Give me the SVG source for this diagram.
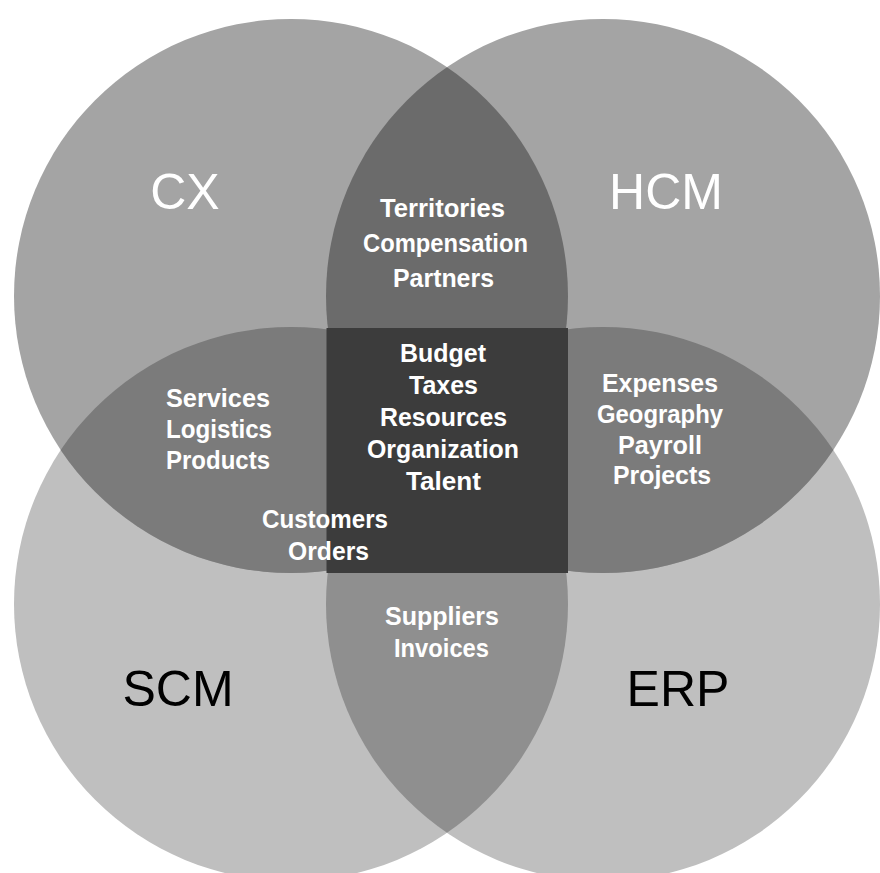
<svg xmlns="http://www.w3.org/2000/svg" width="880" height="873" viewBox="0 0 880 873">
  <style>
    .big { font-family: "Liberation Sans", Arial, sans-serif; font-size: 50px; text-anchor: middle; }
    .item { font-family: "Liberation Sans", Arial, sans-serif; font-weight: bold; font-size: 26.5px; fill: #ffffff; text-anchor: middle; }
  </style>
  <defs>
    <clipPath id="clipHCM"><circle cx="603" cy="296" r="277"/></clipPath>
    <clipPath id="clipSCM"><circle cx="291" cy="604" r="277"/></clipPath>
    <clipPath id="clipERP"><circle cx="603" cy="604" r="277"/></clipPath>
  </defs>
  <rect width="880" height="873" fill="#ffffff"/>
  <g id="scm">
    <circle cx="291" cy="604" r="277" fill="#bfbfbf"/>
    <text class="big" x="178" y="706" fill="#000000">SCM</text>
  </g>
  <g id="erp">
    <circle cx="603" cy="604" r="277" fill="#bfbfbf"/>
    <text class="big" x="678" y="706" fill="#000000">ERP</text>
  </g>
  <g id="cx">
    <circle cx="291" cy="296" r="277" fill="#a4a4a4"/>
    <text class="big" x="185" y="209" fill="#ffffff">CX</text>
  </g>
  <g id="hcm">
    <circle cx="603" cy="296" r="277" fill="#a4a4a4"/>
    <text class="big" x="666" y="209" fill="#ffffff">HCM</text>
  </g>
  <g id="cx-hcm">
    <circle cx="291" cy="296" r="277" fill="#6b6b6b" clip-path="url(#clipHCM)"/>
    <text class="item" x="442.5" y="217" textLength="125" lengthAdjust="spacingAndGlyphs">Territories</text>
    <text class="item" x="445.5" y="252" textLength="165" lengthAdjust="spacingAndGlyphs">Compensation</text>
    <text class="item" x="443.5" y="287" textLength="101" lengthAdjust="spacingAndGlyphs">Partners</text>
  </g>
  <g id="cx-scm">
    <circle cx="291" cy="296" r="277" fill="#7b7b7b" clip-path="url(#clipSCM)"/>
    <text class="item" x="218" y="407" textLength="104" lengthAdjust="spacingAndGlyphs">Services</text>
    <text class="item" x="219" y="438" textLength="106" lengthAdjust="spacingAndGlyphs">Logistics</text>
    <text class="item" x="218" y="469" textLength="104" lengthAdjust="spacingAndGlyphs">Products</text>
  </g>
  <g id="hcm-erp">
    <circle cx="603" cy="296" r="277" fill="#7b7b7b" clip-path="url(#clipERP)"/>
    <text class="item" x="660" y="392" textLength="116" lengthAdjust="spacingAndGlyphs">Expenses</text>
    <text class="item" x="660" y="423" textLength="126" lengthAdjust="spacingAndGlyphs">Geography</text>
    <text class="item" x="660" y="454" textLength="84" lengthAdjust="spacingAndGlyphs">Payroll</text>
    <text class="item" x="662" y="484" textLength="98" lengthAdjust="spacingAndGlyphs">Projects</text>
  </g>
  <g id="scm-erp">
    <circle cx="291" cy="604" r="277" fill="#8f8f8f" clip-path="url(#clipERP)"/>
    <text class="item" x="442" y="625" textLength="114" lengthAdjust="spacingAndGlyphs">Suppliers</text>
    <text class="item" x="441.5" y="657" textLength="95" lengthAdjust="spacingAndGlyphs">Invoices</text>
  </g>
  <g id="all">
    <rect x="326.5" y="328" width="241.5" height="245" fill="#3c3c3c"/>
    <text class="item" x="443" y="362" textLength="86" lengthAdjust="spacingAndGlyphs">Budget</text>
    <text class="item" x="443.5" y="394" textLength="69" lengthAdjust="spacingAndGlyphs">Taxes</text>
    <text class="item" x="443.5" y="426" textLength="127" lengthAdjust="spacingAndGlyphs">Resources</text>
    <text class="item" x="443" y="458" textLength="152" lengthAdjust="spacingAndGlyphs">Organization</text>
    <text class="item" x="443.5" y="490" textLength="75" lengthAdjust="spacingAndGlyphs">Talent</text>
  </g>
  <g id="customers-orders">
    <text class="item" x="325" y="528" textLength="126" lengthAdjust="spacingAndGlyphs">Customers</text>
    <text class="item" x="328.5" y="560" textLength="81" lengthAdjust="spacingAndGlyphs">Orders</text>
  </g>
  <g id="connectors"/>
</svg>
